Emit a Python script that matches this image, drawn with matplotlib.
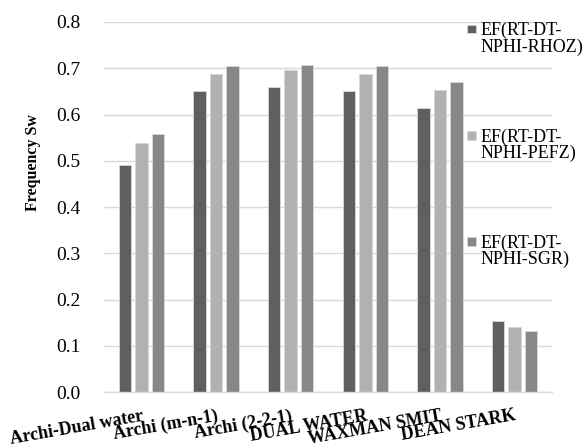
import matplotlib
matplotlib.use("Agg")
import matplotlib.pyplot as plt
import numpy as np
from matplotlib.legend_handler import HandlerPatch, update_from_first_child
from matplotlib.patches import Rectangle
from matplotlib.container import BarContainer

categories = ["Archi-Dual water", "Archi (m-n-1)", "Archi (2-2-1)", "DUAL WATER", "WAXMAN SMIT", "DEAN STARK"]
series_names = ["EF(RT-DT-\nNPHI-RHOZ)", "EF(RT-DT-\nNPHI-PEFZ)", "EF(RT-DT-\nNPHI-SGR)"]
rhoz = [0.49, 0.65, 0.66, 0.65, 0.614, 0.154]
pefz = [0.539, 0.687, 0.697, 0.687, 0.654, 0.141]
sgr = [0.558, 0.705, 0.707, 0.705, 0.671, 0.132]
colors = ["#5f5f5f", "#b1b1b1", "#878787"]
yticks = [0.0, 0.1, 0.2, 0.3, 0.4, 0.5, 0.6, 0.7, 0.8]

plt.rcParams['font.family'] = ['Liberation Serif', 'DejaVu Serif']

fig = plt.figure(figsize=(5.84, 4.48), dpi=100)
ax = fig.add_axes([104/584, 1-392/448, 448/584, 370/448])

x = np.arange(len(categories))
w = 0.167
step = 0.222
for i, (vals, c, name) in enumerate(zip([rhoz, pefz, sgr], colors, series_names)):
    ax.bar(x + (i-1)*step, vals, width=w, color=c, edgecolor="#d8d8d8", linewidth=0.6, label=name, zorder=2)

ax.set_xlim(-0.5, len(categories)-0.5)
ax.set_ylim(0, 0.8)
ax.set_yticks(yticks)
ax.set_yticklabels([f"{v:.1f}" for v in yticks], fontsize=14)
ax.yaxis.grid(True, color="#d9d9d9", linewidth=1.0, zorder=0)
ax.set_axisbelow(True)
for s in ["top", "right", "left"]:
    ax.spines[s].set_visible(False)
ax.spines["bottom"].set_color("#d9d9d9")
ax.spines["bottom"].set_linewidth(1.0)
ax.tick_params(axis="y", length=0, pad=17)
ax.tick_params(axis="x", length=0, pad=11)
ax.set_xticks(x)
ax.set_xticklabels(categories, rotation=10, ha="right", rotation_mode="anchor",
                   fontsize=13, fontweight="bold")
fig.text(33/584, 1-163/448, "Frequency Sw", rotation=90, ha="center", va="center",
         fontsize=11.5, fontweight="bold")


def make_sq(legend, orig_handle, xdescent, ydescent, width, height, fontsize):
    s = width * 0.9
    return Rectangle((-xdescent, -ydescent + height*1.05), s, s)

leg = fig.legend(loc="upper left", bbox_to_anchor=(458/584, 1-13/448), frameon=False,
                 fontsize=13, handlelength=0.55, handleheight=0.5, handletextpad=0.2,
                 labelspacing=4.0, borderpad=0,
                 handler_map={BarContainer: HandlerPatch(patch_func=make_sq,
                                                         update_func=update_from_first_child)})
for t in leg.get_texts():
    t.set_linespacing(0.95)

fig.savefig("out.png", dpi=100)
